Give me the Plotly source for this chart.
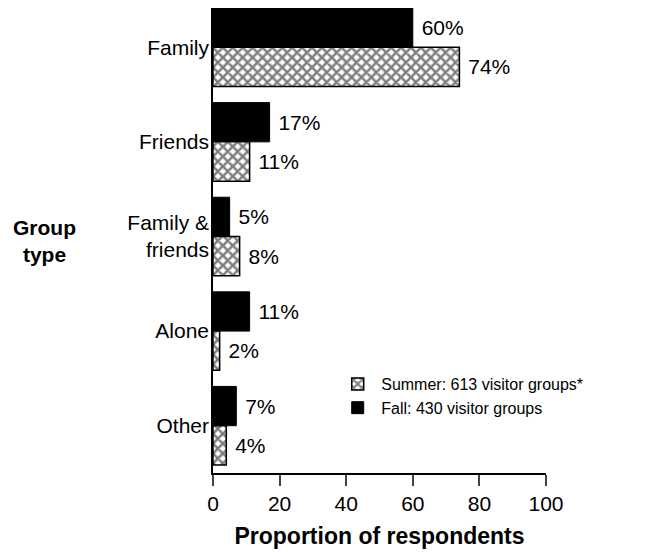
import plotly.graph_objects as go

groups = ["Family", "Friends", "Family &<br>friends", "Alone", "Other"]
fall = [60, 17, 5, 11, 7]
summer = [74, 11, 8, 2, 4]
x_ticks = [0, 20, 40, 60, 80, 100]

FONT = "Liberation Sans, Arial, sans-serif"
GAP = 0.17

fig = go.Figure()

fig.add_trace(go.Bar(
    y=groups, x=fall, orientation="h", name="Fall: 430 visitor groups",
    marker=dict(color="black", line=dict(color="black", width=1)),
    text=[f" {v}%" for v in fall], textposition="outside",
    textfont=dict(size=21, color="black"), cliponaxis=False,
    legendrank=2,
))
fig.add_trace(go.Bar(
    y=groups, x=summer, orientation="h", name="Summer: 613 visitor groups*",
    marker=dict(color="white", line=dict(color="black", width=1.5),
                pattern=dict(shape="x", fgcolor="black", bgcolor="white",
                             size=7, solidity=0.6)),
    text=[f" {v}%" for v in summer], textposition="outside",
    textfont=dict(size=21, color="black"), cliponaxis=False,
    legendrank=1,
))

fig.update_layout(
    width=645, height=552,
    margin=dict(l=205, r=107, t=0, b=87, autoexpand=False),
    paper_bgcolor="white", plot_bgcolor="white",
    font=dict(family=FONT, size=21, color="black"),
    barmode="group", bargap=GAP, bargroupgap=0,
    showlegend=True,
    legend=dict(x=0.364, y=0.228, xanchor="left", yanchor="top",
                font=dict(size=16), bgcolor="rgba(0,0,0,0)",
                tracegroupgap=0, itemwidth=37),
    xaxis=dict(range=[0, 100], tickvals=x_ticks, ticks="outside", ticklen=11,
               tickwidth=1.5, showline=True, linewidth=1.5, linecolor="black",
               showgrid=False, zeroline=False, automargin=False,
               tickfont=dict(size=21),
               title=dict(text="<b>Proportion of respondents</b>",
                          font=dict(size=23), standoff=14)),
    yaxis=dict(categoryorder="array", categoryarray=groups,
               range=[len(groups) - 0.5, -0.5 + GAP / 2],
               showline=True, linewidth=1.5, linecolor="black", showgrid=False,
               ticks="", ticklabelstandoff=-2, automargin=False,
               tickfont=dict(size=21)),
    annotations=[dict(text="<b>Group<br>type</b>", xref="paper", yref="paper",
                      x=-0.505, y=0.5, xanchor="center", yanchor="middle",
                      showarrow=False, font=dict(size=21))],
)

fig.write_html("out.html")
